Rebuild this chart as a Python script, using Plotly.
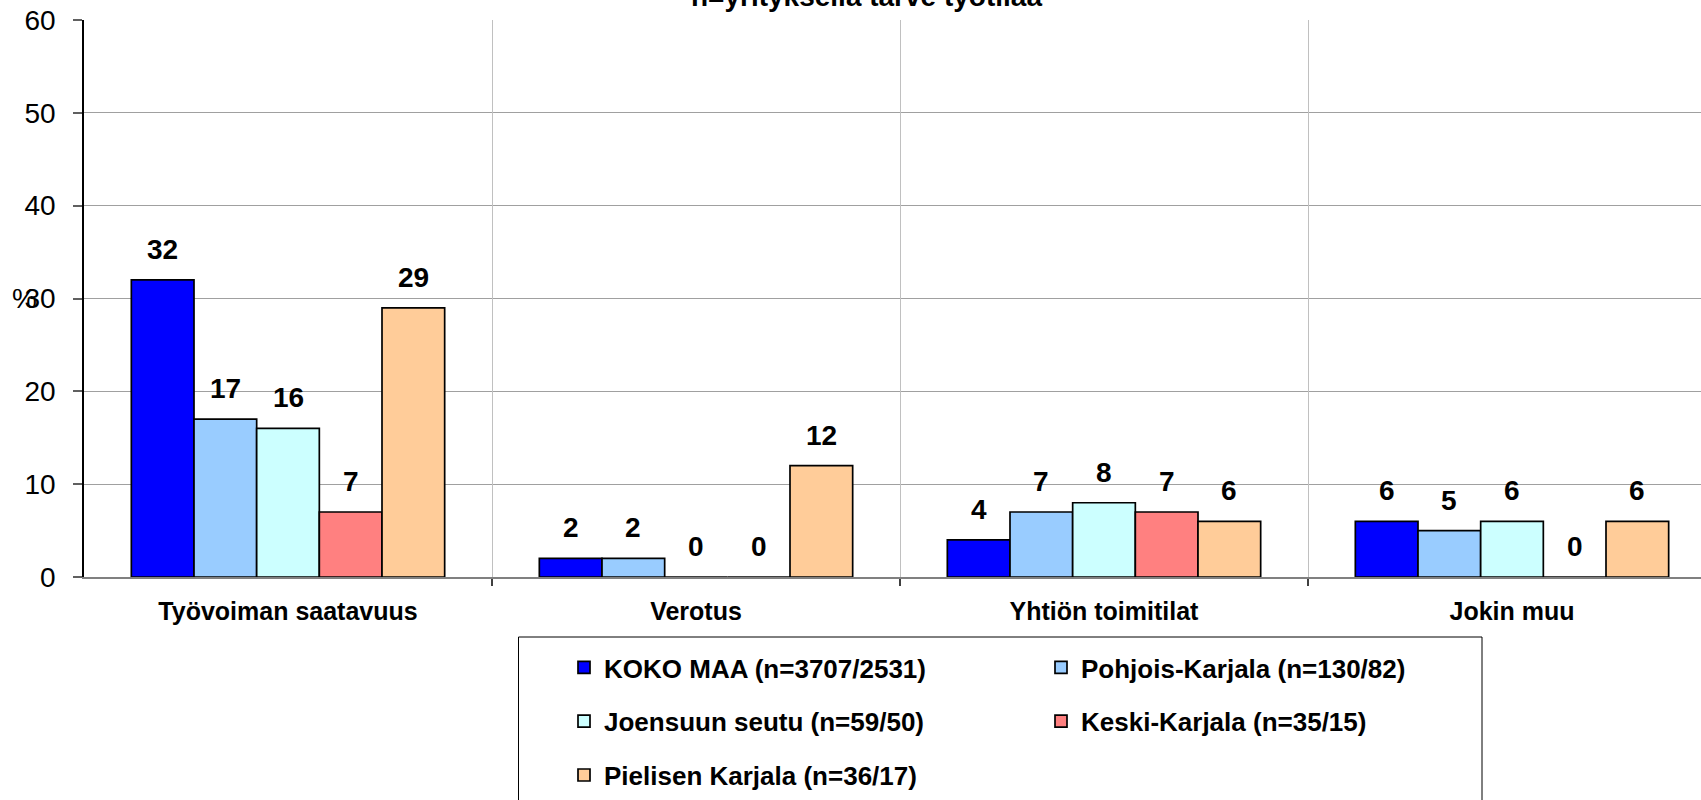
import plotly.graph_objects as go

categories = ["Työvoiman saatavuus", "Verotus", "Yhtiön toimitilat", "Jokin muu"]
series_names = [
    "KOKO MAA (n=3707/2531)",
    "Pohjois-Karjala (n=130/82)",
    "Joensuun seutu (n=59/50)",
    "Keski-Karjala (n=35/15)",
    "Pielisen Karjala (n=36/17)",
]
koko_maa = [32, 2, 4, 6]
pohjois_karjala = [17, 2, 7, 5]
joensuun_seutu = [16, 0, 8, 6]
keski_karjala = [7, 0, 7, 0]
pielisen_karjala = [29, 12, 6, 6]
values = [koko_maa, pohjois_karjala, joensuun_seutu, keski_karjala, pielisen_karjala]
colors = ["#0000FF", "#99CCFF", "#CCFFFF", "#FF8080", "#FFCC99"]
legend_ids = ["legend", "legend2", "legend", "legend2", "legend"]
y_ticks = [0, 10, 20, 30, 40, 50, 60]
title_text = "n=yrityksellä tarve työtilaa"

W, H = 1701, 800
ML, MR, MT, MB = 84, 0, 20, 223
PW, PH = W - ML - MR, H - MT - MB
BARGAP = 0.232
FONT = "Liberation Sans, Arial, sans-serif"

def px_x(p):
    return (p - ML) / PW

def px_y(p):
    return (H - MB - p) / PH

fig = go.Figure()
x_idx = list(range(len(categories)))
for i, (name, vals, col, lg) in enumerate(zip(series_names, values, colors, legend_ids)):
    fig.add_trace(go.Bar(
        x=x_idx, y=vals, name=name, legend=lg, legendgroup=name,
        marker=dict(color=col, line=dict(color="black", width=1.7)),
        hoverinfo="skip",
    ))

# value labels
n = len(series_names)
bw = (1 - BARGAP) / n
anns = []
for i, vals in enumerate(values):
    off = -(1 - BARGAP) / 2 + bw * (i + 0.5)
    for c, v in zip(x_idx, vals):
        anns.append(dict(
            x=c + off, y=v, xref="x", yref="y", text="<b>%d</b>" % v,
            showarrow=False, yanchor="bottom", yshift=13,
            font=dict(family=FONT, size=28, color="black"),
        ))
# percent sign
anns.append(dict(
    x=0, y=30, xref="paper", yref="y", text="%", showarrow=False,
    xanchor="left", xshift=-(ML - 10), font=dict(family=FONT, size=28, color="black"),
))
# title (top is cut off in reference)
anns.append(dict(
    x=px_x(866), y=1, xref="paper", yref="paper", text="<b>%s</b>" % title_text,
    showarrow=False, yanchor="bottom", yshift=6,
    font=dict(family=FONT, size=28, color="black"),
))

fig.update_layout(
    width=W, height=H,
    margin=dict(l=ML, r=MR, t=MT, b=MB, pad=0, autoexpand=False),
    paper_bgcolor="white", plot_bgcolor="white",
    barmode="group", bargap=BARGAP, bargroupgap=0,
    annotations=anns,
    shapes=[dict(
        type="rect", xref="paper", yref="paper",
        x0=px_x(518.5), x1=px_x(1482), y0=px_y(637), y1=px_y(900),
        line=dict(color="black", width=1), fillcolor="rgba(0,0,0,0)", layer="above",
    )],
    legend=dict(
        x=px_x(564), y=px_y(644), xanchor="left", yanchor="top",
        traceorder="grouped", tracegroupgap=17, itemwidth=30,
        bgcolor="rgba(0,0,0,0)", borderwidth=0,
        font=dict(family=FONT, size=26, color="black", weight="bold"),
    ),
    legend2=dict(
        x=px_x(1041), y=px_y(644), xanchor="left", yanchor="top",
        traceorder="grouped", tracegroupgap=17, itemwidth=30,
        bgcolor="rgba(0,0,0,0)", borderwidth=0,
        font=dict(family=FONT, size=26, color="black", weight="bold"),
    ),
    xaxis=dict(
        type="linear", range=[-0.5, 3.5 - 15 / 408], autorange=False,
        tickmode="array", tickvals=x_idx, ticktext=["<b>%s</b>" % c for c in categories],
        showgrid=False, ticks="", showline=True, linecolor="#808080", linewidth=1.5,
        tickfont=dict(family=FONT, size=25, color="black"),
        ticklabelstandoff=11, zeroline=False,
    ),
    xaxis2=dict(
        overlaying="x", range=[-0.5, 3.5 - 15 / 408], autorange=False,
        tickmode="array", tickvals=[0.5, 1.5, 2.5], ticktext=["", "", ""],
        showgrid=True, gridcolor="#c0c0c0", gridwidth=1,
        ticks="outside", ticklen=8, tickcolor="#404040", tickwidth=1.5,
        showline=False, zeroline=False, side="bottom", layer="below traces",
    ),
    yaxis=dict(
        range=[0, 60], autorange=False, tickmode="array", tickvals=y_ticks,
        showgrid=True, gridcolor="#a0a0a0", gridwidth=1,
        showline=True, linecolor="black", linewidth=1.5,
        ticks="outside", ticklen=9, tickcolor="#606060", tickwidth=1.5,
        tickfont=dict(family=FONT, size=28, color="black"),
        ticklabelstandoff=12, zeroline=False,
    ),
)
# invisible trace to activate xaxis2 grid/ticks
fig.add_trace(go.Scatter(x=[0], y=[0], xaxis="x2", mode="markers",
                         marker=dict(opacity=0), showlegend=False, hoverinfo="skip"))

fig.write_html("out.html", config={"displayModeBar": False},
               post_script="document.body.style.margin='0px';")
